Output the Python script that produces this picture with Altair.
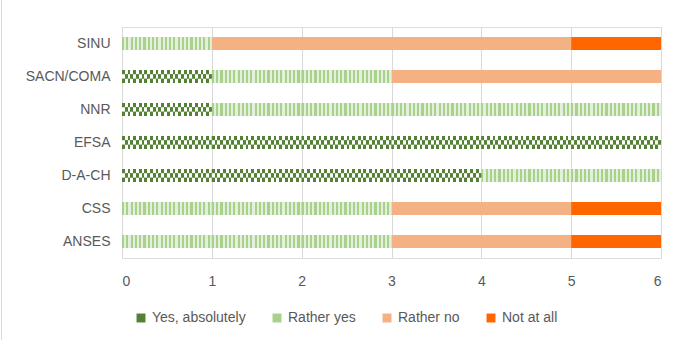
import altair as alt
import pandas as pd

# Survey answers per organisation (number of respondents)
orgs = ["SINU", "SACN/COMA", "NNR", "EFSA", "D-A-CH", "CSS", "ANSES"]
answers = ["Yes, absolutely", "Rather yes", "Rather no", "Not at all"]
yes_absolutely = [0, 1, 1, 6, 4, 0, 0]
rather_yes = [1, 2, 5, 0, 2, 3, 3]
rather_no = [4, 3, 0, 0, 0, 2, 2]
not_at_all = [1, 0, 0, 0, 0, 1, 1]
x_ticks = [0, 1, 2, 3, 4, 5, 6]

colors = ["#548235", "#A9D18E", "#F4B183", "#FF6600"]

# stacked segments
rows = []
for i, org in enumerate(orgs):
    start = 0
    for ans, vals in zip(answers, [yes_absolutely, rather_yes, rather_no, not_at_all]):
        v = vals[i]
        if v > 0:
            rows.append({"org": org, "answer": ans, "start": start, "end": start + v})
        start += v
seg = pd.DataFrame(rows)

# unit-wide pieces of the patterned segments, so every piece shares one fill pattern
def unit_pieces(answer):
    out = []
    for r in rows:
        if r["answer"] == answer:
            for s in range(r["start"], r["end"]):
                out.append({"org": r["org"], "start": s, "end": s + 1})
    return pd.DataFrame(out)

stripe_df = unit_pieces("Rather yes")
check_df = unit_pieces("Yes, absolutely")


def stripes(n, c1, c2, frac=0.5, phase=False):
    stops = []
    for k in range(n):
        a, b = (c2, c1) if phase else (c1, c2)
        stops += [
            {"offset": k / n, "color": a},
            {"offset": (k + frac) / n, "color": a},
            {"offset": (k + frac) / n, "color": b},
            {"offset": (k + 1) / n, "color": b},
        ]
    return {"gradient": "linear", "x1": 0, "y1": 0, "x2": 1, "y2": 0, "stops": stops}


FONT = "Liberation Sans"
FS = 14
BAR_H = 13

y_enc = alt.Y("org:N", sort=orgs, title=None,
              axis=alt.Axis(labelFontSize=FS, labelColor="#595959", labelFont=FONT,
                            domain=False, ticks=False, labelPadding=12))
x_enc = alt.X("start:Q", title=None,
              scale=alt.Scale(domain=[0, 6], nice=False),
              axis=alt.Axis(values=x_ticks, labelFontSize=FS, labelColor="#595959",
                            labelFont=FONT, domain=False, ticks=False,
                            gridColor="#D9D9D9", gridWidth=1, labelPadding=16,
                            format="d"))

base = alt.Chart(seg).mark_bar(height=BAR_H).encode(
    y=y_enc,
    x=x_enc,
    x2="end:Q",
    color=alt.Color("answer:N",
                    scale=alt.Scale(domain=answers, range=colors),
                    sort=answers,
                    legend=alt.Legend(title=None, orient="none", direction="horizontal",
                                      legendX=12, legendY=284, symbolType="square",
                                      symbolSize=80, symbolStrokeWidth=0,
                                      labelFontSize=FS, labelColor="#595959",
                                      labelFont=FONT, columnPadding=24, labelOffset=4)),
)

stripe_layer = alt.Chart(stripe_df).mark_bar(
    height=BAR_H, fill=stripes(21, "#A9D18E", "#E4F0DC", 0.5)
).encode(y=alt.Y("org:N", sort=orgs), x="start:Q", x2="end:Q")

# checkerboard: three rows of horizontal stripes, alternating phase
check_layers = []
n_rows = 3
row_h = BAR_H / n_rows
for r in range(n_rows):
    off = -BAR_H / 2 + row_h * (r + 0.5)
    check_layers.append(
        alt.Chart(check_df).mark_bar(
            height=row_h, yOffset=off,
            fill=stripes(16, "#548235", "#FFFFFF", 0.5, phase=(r % 2 == 1)),
        ).encode(y=alt.Y("org:N", sort=orgs), x="start:Q", x2="end:Q")
    )

frame = alt.Chart(seg).mark_rule(color="#D9D9D9", strokeWidth=1).encode(
    x=alt.value(-120.5), y=alt.value(-27), y2=alt.value(313)
)

chart = alt.layer(base, stripe_layer, *check_layers, frame).properties(
    width=539, height=231,
    autosize=alt.AutoSizeParams(type="none"),
    padding={"left": 122, "top": 27, "right": 17, "bottom": 82},
).configure_view(stroke=None).configure(background="white")

chart.save("out.html", embed_options={"renderer": "svg", "actions": False})
